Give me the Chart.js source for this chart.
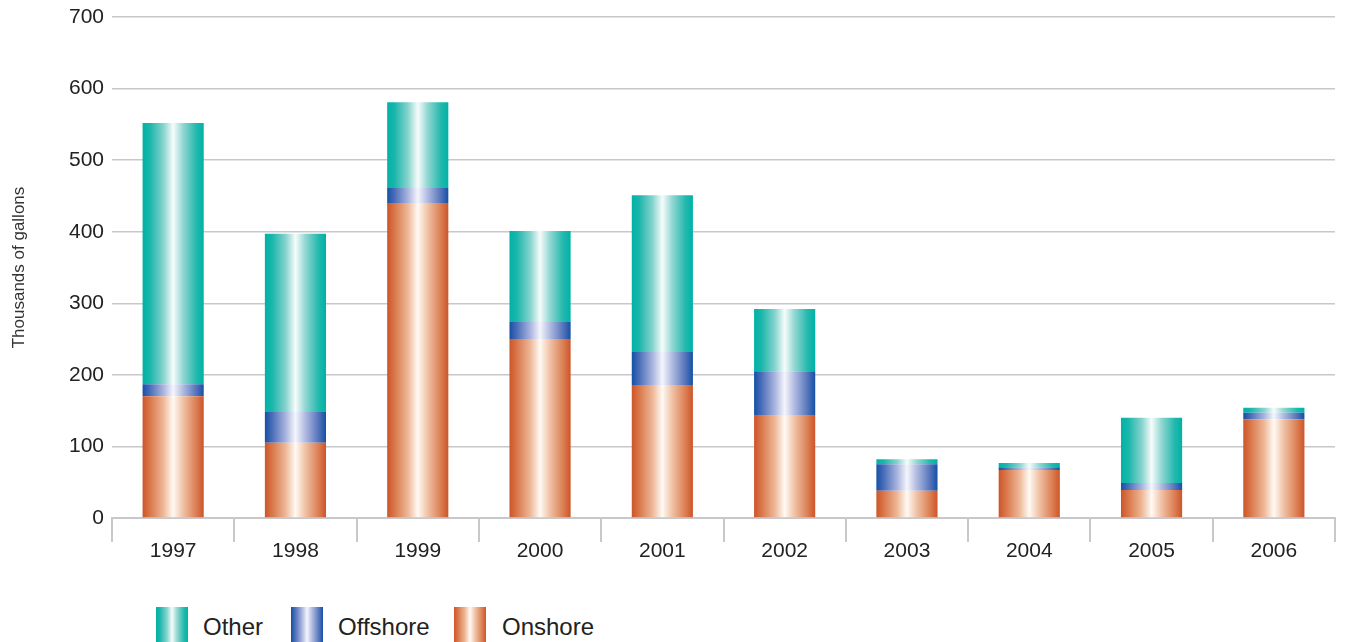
<!DOCTYPE html>
<html>
<head>
<meta charset="utf-8">
<script src="https://cdn.jsdelivr.net/npm/chart.js@4/dist/chart.umd.min.js"></script>
<style>
  html, body { margin: 0; padding: 0; background: #fff; overflow: hidden; }
  #wrap { position: relative; width: 1348px; height: 642px; }
  #box { position: absolute; left: 0; top: 0; width: 1348px; height: 600px; }
  .legend { position: absolute; top: 607px; left: 0; height: 35px; }
  .item { position: absolute; top: 0; height: 35px; white-space: nowrap; }
  .sw { position: absolute; left: 0; top: 0; width: 32px; height: 35px; }
  .lbl { position: absolute; top: 6px; font: 24px "Liberation Sans", Arial, sans-serif; color: #222; }
</style>
</head>
<body>
<div id="wrap">
  <div id="box"><canvas id="spills"></canvas></div>
  <div class="legend">
    <div class="item" style="left:156px"><div class="sw" id="sw-other"></div><span class="lbl" style="left:47px">Other</span></div>
    <div class="item" style="left:291px"><div class="sw" id="sw-off"></div><span class="lbl" style="left:47px">Offshore</span></div>
    <div class="item" style="left:454px"><div class="sw" id="sw-on"></div><span class="lbl" style="left:48px">Onshore</span></div>
  </div>
</div>
<script>
// years and spill volumes (thousands of gallons), stacked bottom to top
const years = ["1997", "1998", "1999", "2000", "2001", "2002", "2003", "2004", "2005", "2006"];
const onshore = [170, 105, 440, 250, 186, 143, 38, 67, 39, 138];
const offshore = [17, 43, 21, 24, 46, 62, 37, 4, 10, 9];
const other = [365, 249, 120, 127, 219, 87, 7, 6, 91, 7];
const yTicks = [0, 100, 200, 300, 400, 500, 600, 700];

// colour stops across the width of a bar: dark edges, white in the middle
const shades = {
  on: ["#cc5529", "#d9774a", "#eeb797", "#fffaf4", "#f0c2a6", "#db7e52", "#cc5529"],
  off: ["#1550a6", "#4a6db8", "#a9b4de", "#f4f5fc", "#b1bbe1", "#5373ba", "#1550a6"],
  other: ["#00b2a6", "#1ab6ab", "#86d3cd", "#f6fcfb", "#93d7d2", "#22b8ad", "#00b2a6"]
};
const stops = [0, 0.12, 0.34, 0.5, 0.66, 0.88, 1];

function cssGrad(c) {
  return "linear-gradient(to right," + c.map((col, i) => col + " " + stops[i] * 100 + "%").join(",") + ")";
}
document.getElementById("sw-other").style.background = cssGrad(shades.other);
document.getElementById("sw-off").style.background = cssGrad(shades.off);
document.getElementById("sw-on").style.background = cssGrad(shades.on);

const BAR_SHARE = 0.5;

function barFill(cols) {
  return function (ctx) {
    const chart = ctx.chart;
    const xs = chart.scales.x;
    if (!chart.chartArea || !xs) return cols[0];
    const cx = xs.getPixelForValue(ctx.dataIndex);
    const w = xs.width / years.length * BAR_SHARE;
    const g = chart.ctx.createLinearGradient(cx - w / 2, 0, cx + w / 2, 0);
    cols.forEach((c, i) => g.addColorStop(stops[i], c));
    return g;
  };
}

const font = "'Liberation Sans', Arial, sans-serif";

new Chart(document.getElementById("spills"), {
  type: "bar",
  data: {
    labels: years,
    datasets: [
      { label: "Onshore", data: onshore, backgroundColor: barFill(shades.on) },
      { label: "Offshore", data: offshore, backgroundColor: barFill(shades.off) },
      { label: "Other", data: other, backgroundColor: barFill(shades.other) }
    ]
  },
  options: {
    responsive: true,
    maintainAspectRatio: false,
    animation: false,
    layout: { padding: { top: 17, right: 13, left: 0, bottom: 0 } },
    datasets: { bar: { barPercentage: 1, categoryPercentage: BAR_SHARE, borderWidth: 0 } },
    plugins: { legend: { display: false }, tooltip: { enabled: false } },
    scales: {
      x: {
        stacked: true,
        grid: { offset: true, drawOnChartArea: false, tickLength: 24, color: "#c8c8cc", lineWidth: 2 },
        border: { display: true, color: "#c8c8cc", width: 2 },
        ticks: { color: "#222", padding: -3, font: { family: font, size: 21 } },
        afterFit: s => { s.height = 600 - 518; }
      },
      y: {
        stacked: true,
        min: 0,
        max: 700,
        afterBuildTicks: s => { s.ticks = yTicks.map(v => ({ value: v })); },
        grid: { drawTicks: false, color: "#c8c8cc", lineWidth: 1.5 },
        border: { display: false },
        ticks: { color: "#222", padding: 8, font: { family: font, size: 21 } },
        title: {
          display: true,
          text: "Thousands of gallons",
          color: "#333",
          padding: { top: 9, bottom: 0 },
          font: { family: font, size: 17 }
        },
        afterFit: s => { s.width = 112; s.paddingTop = 0; }
      }
    }
  }
});
</script>
</body>
</html>
